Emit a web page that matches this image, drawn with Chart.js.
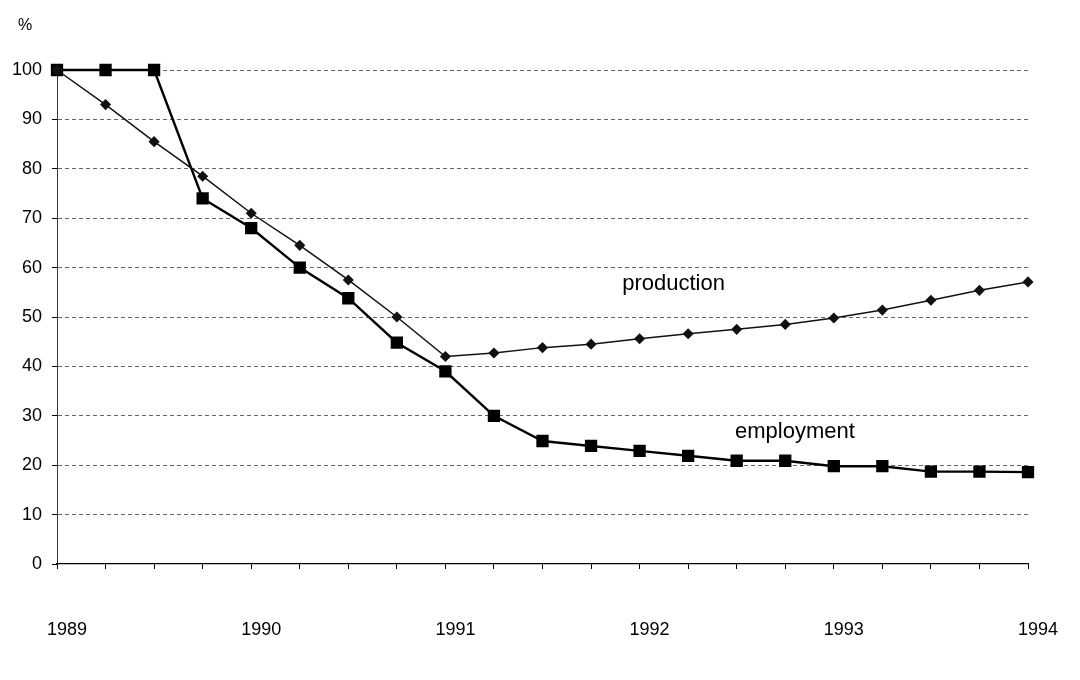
<!DOCTYPE html>
<html>
<head>
<meta charset="utf-8">
<script src="https://cdn.jsdelivr.net/npm/chart.js@4"></script>
<style>
  html, body { margin: 0; padding: 0; background: #fff; }
  #wrap { width: 1080px; height: 680px; }
</style>
</head>
<body>
<div id="wrap"><canvas id="grafico"></canvas></div>
<script>
// quarters 1989 - 1994, year shown on the first quarter only
const trimestres = ['1989','','','','1990','','','','1991','','','','1992','','','','1993','','','','1994'];
const produccion = [100, 93, 85.5, 78.5, 71, 64.5, 57.5, 50, 42, 42.7, 43.8, 44.5, 45.6, 46.6, 47.5, 48.5, 49.8, 51.4, 53.4, 55.4, 57.1];
const empleo = [100, 100, 100, 74, 68, 60, 53.8, 44.8, 39, 30, 24.9, 23.9, 22.9, 21.9, 20.9, 20.9, 19.8, 19.8, 18.7, 18.7, 18.6];
const ticksY = [0, 10, 20, 30, 40, 50, 60, 70, 80, 90, 100];

// text labels next to the lines: [text, index on x, value on y]
const etiquetas = [
  ['production', 12.7, 56.7],
  ['employment', 15.2, 26.7]
];

const textos = {
  id: 'textos',
  afterDraw(chart) {
    const ctx = chart.ctx;
    const x = chart.scales.x, y = chart.scales.y;
    ctx.save();
    ctx.fillStyle = '#000';
    ctx.font = '22px "Liberation Sans", Arial, sans-serif';
    ctx.textAlign = 'center';
    ctx.textBaseline = 'middle';
    etiquetas.forEach(e => {
      ctx.fillText(e[0], x.getPixelForValue(e[1]), y.getPixelForValue(e[2]));
    });
    ctx.font = '16px "Liberation Sans", Arial, sans-serif';
    ctx.fillText('%', 25, 26);
    ctx.restore();
  }
};

const ctx = document.getElementById('grafico');
new Chart(ctx, {
  type: 'line',
  data: {
    labels: trimestres,
    datasets: [{
      label: 'production',
      data: produccion,
      borderColor: '#111',
      backgroundColor: '#111',
      borderWidth: 1.5,
      pointStyle: 'rectRot',
      pointRadius: 4.5,
      tension: 0,
      clip: false
    }, {
      label: 'employment',
      data: empleo,
      borderColor: '#000',
      backgroundColor: '#000',
      borderWidth: 2.4,
      pointStyle: 'rect',
      pointRadius: 7,
      tension: 0,
      clip: false
    }]
  },
  options: {
    responsive: true,
    maintainAspectRatio: false,
    animation: false,
    layout: { padding: { top: 70, right: 52, left: 0, bottom: 0 } },
    plugins: {
      legend: { display: false },
      title: { display: false },
      tooltip: { enabled: false }
    },
    scales: {
      x: {
        offset: false,
        afterFit(scale) {
          scale.height = 116;
          scale.paddingLeft = 20;
          scale.paddingRight = 30;
        },
        grid: {
          drawOnChartArea: false,
          drawTicks: true,
          tickLength: 5,
          color: '#000'
        },
        border: { color: '#000', width: 1.2, z: 1 },
        ticks: {
          autoSkip: false,
          maxRotation: 0,
          padding: 50,
          labelOffset: 10,
          color: '#000',
          font: { family: '"Liberation Sans", Arial, sans-serif', size: 18 }
        }
      },
      y: {
        min: 0,
        max: 100,
        afterFit(scale) { scale.width = 57; },
        afterBuildTicks(scale) { scale.ticks = ticksY.map(v => ({ value: v })); },
        grid: {
          color: c => (c.tick && c.tick.value === 0) ? 'rgba(0,0,0,0)' : '#666',
          lineWidth: 1,
          tickLength: 5,
          tickColor: '#000'
        },
        border: { color: '#333', dash: [4, 3] },
        ticks: {
          padding: 10,
          color: '#000',
          font: { family: '"Liberation Sans", Arial, sans-serif', size: 18 }
        }
      }
    }
  },
  plugins: [textos]
});
</script>
</body>
</html>
